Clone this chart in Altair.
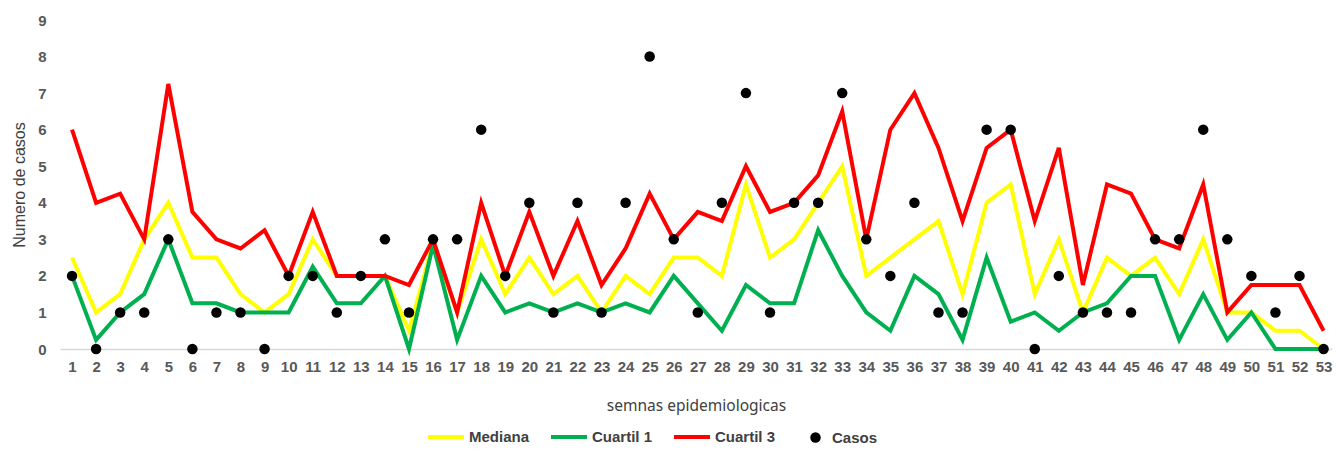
import altair as alt
import pandas as pd

semanas = list(range(1, 54))
mediana = [2.5, 1, 1.5, 3, 4, 2.5, 2.5, 1.5, 1, 1.5, 3, 2,
           2, 2, 0.5, 2.9, 1, 3, 1.5, 2.5, 1.5, 2, 1, 2, 1.5, 2.5,
           2.5, 2, 4.5, 2.5, 3, 4, 5, 2, 2.5, 3, 3.5, 1.5, 4,
           4.5, 1.5, 3, 1, 2.5, 2, 2.5, 1.5, 3, 1, 1, 0.5, 0.5, 0]
cuartil1 = [2, 0.25, 1, 1.5, 3, 1.25, 1.25, 1, 1, 1, 2.25, 1.25,
            1.25, 2, 0, 2.85, 0.25, 2, 1, 1.25, 1, 1.25, 1, 1.25, 1, 2,
            1.25, 0.5, 1.75, 1.25, 1.25, 3.25, 2, 1, 0.5, 2, 1.5, 0.25, 2.5,
            0.75, 1, 0.5, 1, 1.25, 2, 2, 0.25, 1.5, 0.25, 1, 0, 0, 0]
cuartil3 = [6, 4, 4.25, 3, 7.25, 3.75, 3, 2.75, 3.25, 2, 3.75, 2,
            2, 2, 1.75, 3, 1, 4, 2, 3.75, 2, 3.5, 1.75, 2.75, 4.25, 3,
            3.75, 3.5, 5, 3.75, 4, 4.75, 6.5, 3, 6, 7, 5.5, 3.5, 5.5,
            6, 3.5, 5.5, 1.75, 4.5, 4.25, 3, 2.75, 4.5, 1, 1.75, 1.75, 1.75, 0.5]
casos = [2, 0, 1, 1, 3, 0, 1, 1, 0, 2, 2, 1,
         2, 3, 1, 3, 3, 6, 2, 4, 1, 4, 1, 4, 8, 3,
         1, 4, 7, 1, 4, 4, 7, 3, 2, 4, 1, 1, 6,
         6, 0, 2, 1, 1, 1, 3, 3, 6, 3, 2, 1, 2, 0]

series_names = ["Mediana", "Cuartil 1", "Cuartil 3"]
series_colors = ["#FFFF00", "#00B050", "#FF0000"]

rows = []
for name, vals in zip(series_names, [mediana, cuartil1, cuartil3]):
    for s, v in zip(semanas, vals):
        rows.append({"semana": s, "valor": v, "serie": name})
lines_df = pd.DataFrame(rows)
pts_df = pd.DataFrame({"semana": semanas, "valor": casos, "tipo": "Casos"})

x_enc = alt.X("semana:Q",
              scale=alt.Scale(domain=[0.5, 53.35], nice=False, zero=False),
              axis=alt.Axis(values=semanas, format="d", title="semnas epidemiologicas",
                            labelFont="Liberation Sans", labelFontSize=15, labelFontWeight="bold",
                            labelColor="#595959", labelPadding=10, labelFlush=False,
                            ticks=False, grid=False, domain=True, domainColor="#D9D9D9",
                            domainWidth=1.5,
                            titleFont="Noto Sans", titleFontSize=15.5, titleFontWeight="normal",
                            titleColor="#404040", titlePadding=24, labelOverlap=False))
y_enc = alt.Y("valor:Q",
              scale=alt.Scale(domain=[0, 9], nice=False),
              axis=alt.Axis(values=list(range(0, 10)), title="Numero de casos",
                            labelFont="Liberation Sans", labelFontSize=15, labelFontWeight="bold",
                            labelColor="#595959", labelPadding=14,
                            ticks=False, grid=False, domain=False,
                            titleFont="Liberation Sans", titleFontSize=16, titleFontWeight="normal",
                            titleColor="#404040", titlePadding=10))

line_legend = alt.Legend(orient="none", legendX=366, legendY=397, direction="horizontal",
                         title=None, symbolType="stroke", symbolSize=1296, symbolStrokeWidth=4,
                         labelFont="Liberation Sans", labelFontSize=15, labelFontWeight="bold",
                         labelColor="#404040", labelOffset=3, columnPadding=13, padding=0)
color_enc = alt.Color("serie:N",
                      scale=alt.Scale(domain=series_names, range=series_colors),
                      legend=line_legend)

layers = []
for name in series_names:
    layers.append(
        alt.Chart(lines_df).transform_filter(alt.datum.serie == name)
        .mark_line(strokeWidth=4)
        .encode(x=x_enc, y=y_enc, color=color_enc)
    )

points = alt.Chart(pts_df).mark_point(filled=True, color="black", size=110, opacity=1).encode(
    x=x_enc, y=y_enc,
    shape=alt.Shape("tipo:N", scale=alt.Scale(domain=["Casos"], range=["circle"]),
                    legend=alt.Legend(orient="none", legendX=748, legendY=410, title=None,
                                      symbolSize=110, symbolFillColor="black",
                                      symbolStrokeColor="black",
                                      labelFont="Liberation Sans", labelFontSize=15,
                                      labelFontWeight="bold", labelColor="#404040",
                                      labelOffset=9, padding=0))
)
layers.append(points)

chart = alt.layer(*layers).resolve_scale(color="shared").properties(
    width=1272, height=329,
    autosize=alt.AutoSizeParams(type="none"),
    padding={"left": 52, "top": 12, "right": 1, "bottom": 96},
    background="white"
).configure_view(stroke=None)

chart.save("out.html", embed_options={"renderer": "svg", "actions": False})
